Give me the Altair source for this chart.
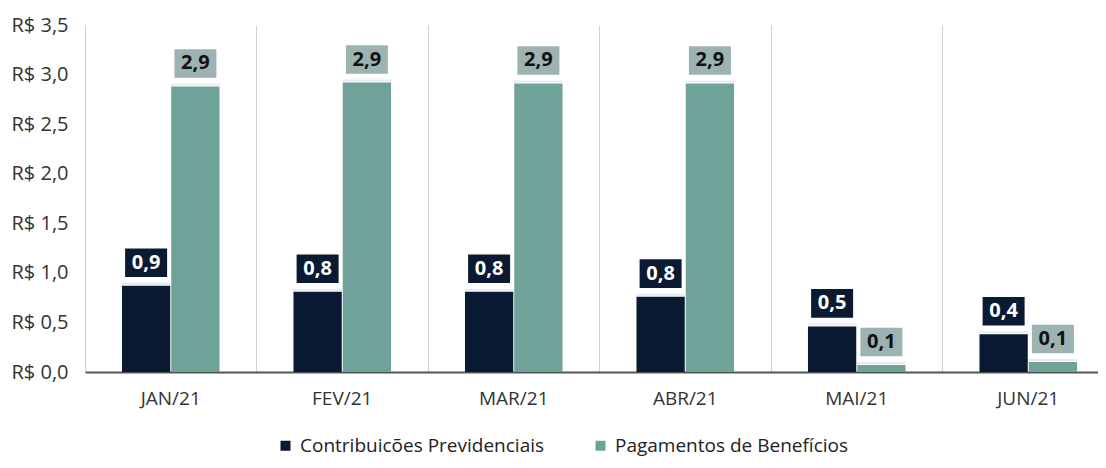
import altair as alt
import pandas as pd

months = ["JAN/21", "FEV/21", "MAR/21", "ABR/21", "MAI/21", "JUN/21"]
contribuicoes = [0.87, 0.81, 0.81, 0.76, 0.46, 0.38]
pagamentos = [2.88, 2.92, 2.91, 2.91, 0.07, 0.10]
series = ["Contribuicões Previdenciais", "Pagamentos de Benefícios"]
colors = ["#0b1a33", "#6fa39a"]
box_colors = ["#0b1a33", "#9db3b1"]
text_colors = ["#ffffff", "#111111"]

rows = []
for i, m in enumerate(months):
    rows.append({"mes": m, "serie": series[0], "valor": contribuicoes[i]})
    rows.append({"mes": m, "serie": series[1], "valor": pagamentos[i]})
df = pd.DataFrame(rows)

FONT = "Open Sans"

x = alt.X("mes:N", sort=months, title=None,
          scale=alt.Scale(paddingInner=0, paddingOuter=0, range=[0, 1029]),
          axis=alt.Axis(labelAngle=0, labelFontSize=19, labelColor="#333333", labelFont=FONT,
                        ticks=False, domainColor="#555555", domainWidth=2,
                        grid=True, gridColor="#cfcfcf", gridWidth=1, bandPosition=0,
                        labelPadding=17))
xo = alt.XOffset("serie:N", sort=series,
                 scale=alt.Scale(paddingInner=0.02, paddingOuter=0.75))
y = alt.Y("valor:Q", title=None,
          scale=alt.Scale(domain=[0, 3.5]),
          axis=alt.Axis(values=[0, 0.5, 1, 1.5, 2, 2.5, 3, 3.5], grid=False, domain=False, ticks=False,
                        labelExpr="'R$ ' + replace(format(datum.value, '.1f'), '.', ',')",
                        labelFontSize=20, labelColor="#333333", labelFont=FONT, labelPadding=17))

color = alt.Color("serie:N", sort=series,
                  scale=alt.Scale(domain=series, range=colors),
                  legend=alt.Legend(orient="none", legendX=191, legendY=411, direction="horizontal",
                                    title=None, symbolType="square", labelLimit=0,
                                    labelFontSize=19, labelFont=FONT, labelColor="#222222",
                                    symbolSize=100, columnPadding=46, labelOffset=5,
                                    symbolStrokeWidth=0))

base = alt.Chart(df).encode(x=x, xOffset=xo)

bars = base.mark_bar().encode(y=y, color=color)

caps = base.mark_tick(color="#dde3e8", thickness=2, yOffset=-2).encode(
    y=y, size=alt.value(49))

boxes = base.mark_point(
    shape="M-1,-0.68L1,-0.68L1,0.68L-1,0.68Z", filled=True, opacity=1, size=1764, yOffset=-23
).encode(
    y=y,
    color=alt.Color("serie:N", scale=alt.Scale(domain=series, range=box_colors), legend=None),
)

labels = base.transform_calculate(
    lab="replace(format(datum.valor, '.1f'), '.', ',')"
).mark_text(font=FONT, fontSize=20, fontWeight="bold", yOffset=-23, baseline="middle").encode(
    y=y,
    text="lab:N",
    color=alt.Color("serie:N", scale=alt.Scale(domain=series, range=text_colors), legend=None),
)

chart = alt.layer(bars, caps, boxes, labels).resolve_scale(color="independent").properties(
    width=1013, height=347,
    autosize=alt.AutoSizeParams(type="none"),
    padding={"left": 77, "top": 17, "right": 0, "bottom": 88},
).configure_view(stroke=None)

chart.save("out.html", embed_options={"renderer": "svg", "actions": False})
